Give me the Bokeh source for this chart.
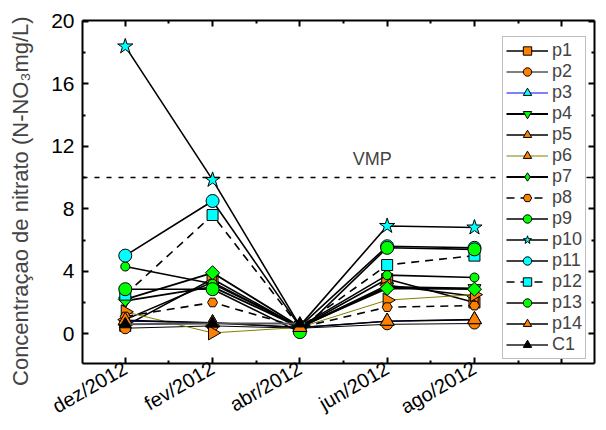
import math
from bokeh.plotting import figure
from bokeh.models import (Range1d, FixedTicker, LinearAxis, Span, Label,
                          Legend, LegendItem, CustomLabelingPolicy)
from bokeh.embed import file_html
from bokeh.resources import INLINE

nan = float("nan")

# ---- data ----
months = ["dez/2012", "fev/2012", "abr/2012", "jun/2012", "ago/2012"]
x_idx = [0, 1, 2, 3, 4]
series_names = ["p1", "p2", "p3", "p4", "p5", "p6", "p7", "p8", "p9", "p10",
                "p11", "p12", "p13", "p14", "C1"]
p1 = [0.5, 3.5, 0.4, 3.5, 2.0]
p2 = [0.35, 0.5, 0.35, 0.6, 0.65]
p3 = [0.8, 0.7, 0.4, 0.8, 0.9]
p4 = [2.1, 3.0, 0.4, 3.0, 2.9]
p5 = [0.9, 3.3, 0.4, 3.1, 2.4]
p6 = [1.4, 0.05, 0.4, 2.15, 2.5]
p7 = [2.2, 3.9, 0.45, 2.9, 2.85]
p8 = [1.1, 2.0, 0.4, 1.7, 1.8]
p9 = [4.3, 3.2, 0.45, 3.75, 3.6]
p10 = [18.4, 9.85, 0.5, 6.9, 6.8]
p11 = [5.0, 8.5, 0.45, 5.6, 5.5]
p12 = [2.5, 7.6, 0.4, 4.4, 5.0]
p13 = [2.85, 2.85, 0.1, 5.5, 5.4]
p14 = [0.85, 0.7, 0.4, 0.8, 0.9]
c1 = [0.6, 0.65, 0.65, nan, nan]
vmp = 10
y_ticks = [0, 4, 8, 12, 16, 20]
y_minor = [2, 6, 10, 14, 18]

values = [p1, p2, p3, p4, p5, p6, p7, p8, p9, p10, p11, p12, p13, p14, c1]

ORANGE = "#FF8000"
CYAN = "#00FFFF"
GREEN = "#00FF00"
# styles: marker, legend marker, fill, size, angle, line color, line width, dash
styles = [
    ("square", "square", ORANGE, 11, 0, "black", 1.6, "solid"),
    ("circle", "circle", ORANGE, 11, 0, "black", 1.0, "solid"),
    ("triangle", "triangle", CYAN, 14, 0, "#0000FF", 1.0, "solid"),
    ("inverted_triangle", "inverted_triangle", GREEN, 13, 0, "black", 1.8, "solid"),
    ("triangle", "triangle", ORANGE, 13, math.pi / 2, "black", 1.6, "solid"),
    ("triangle", "triangle", ORANGE, 14, -math.pi / 2, "#808000", 1.0, "solid"),
    ("square", "diamond", GREEN, 10, math.pi / 4, "black", 1.8, "solid"),
    ("hex", "hex", ORANGE, 10, 0, "black", 1.6, "8 6"),
    ("circle", "circle", GREEN, 9, 0, "black", 1.6, "solid"),
    ("star", "star", CYAN, 16, 0, "black", 1.6, "solid"),
    ("circle", "circle", CYAN, 13, 0, "black", 1.6, "solid"),
    ("square", "square", CYAN, 11, 0, "black", 1.6, "8 6"),
    ("circle", "circle", GREEN, 13, 0, "black", 1.6, "solid"),
    ("triangle", "triangle", ORANGE, 14, 0, "black", 1.6, "solid"),
    ("triangle", "triangle", "black", 12, 0, "#555555", 2.0, "solid"),
]

FONT = "Liberation Sans"

p = figure(frame_width=512, frame_height=343,
           x_range=Range1d(-0.49, 5.375), y_range=Range1d(-1.91, 20.06),
           min_border_left=82, min_border_right=4, min_border_top=20,
           min_border_bottom=10,
           output_backend="svg", toolbar_location=None,
           x_axis_location=None, y_axis_location=None)
p.xgrid.visible = False
p.ygrid.visible = False
p.outline_line_color = None
p.background_fill_color = "white"
p.border_fill_color = "white"

x_major = [0, 1, 2, 3, 4, 5]
x_minor = [0.5, 1.5, 2.5, 3.5, 4.5]
xt = FixedTicker(ticks=x_major, minor_ticks=x_minor)
yt = FixedTicker(ticks=y_ticks, minor_ticks=y_minor)

no_labels = CustomLabelingPolicy(code="""
    for (const i of indices) { indices.unset(i) }
    return indices
""")


def style_axis(ax, labels=True):
    ax.axis_line_width = 2
    ax.axis_line_color = "black"
    ax.major_tick_in = 6
    ax.major_tick_out = 0
    ax.minor_tick_in = 3
    ax.minor_tick_out = 0
    ax.major_tick_line_width = 2
    ax.minor_tick_line_width = 2
    ax.major_tick_line_color = "black"
    ax.minor_tick_line_color = "black"
    ax.major_label_text_font = FONT
    ax.major_label_text_color = "black"
    if not labels:
        ax.major_label_text_font_size = "0px"
        ax.major_label_standoff = 0
        ax.major_label_policy = no_labels


bottom = LinearAxis(ticker=xt)
style_axis(bottom)
bottom.major_label_overrides = {i: m for i, m in enumerate(months)} | {5: ""}
bottom.major_label_orientation = math.pi / 6
bottom.major_label_text_font_size = "20px"
bottom.major_label_standoff = 3
p.add_layout(bottom, "below")

left = LinearAxis(ticker=yt)
style_axis(left)
left.major_label_text_font_size = "21px"
left.major_label_standoff = 8
left.axis_label = "Concentraçao de nitrato (N-NO₃mg/L)   "
left.axis_label_text_font = FONT
left.axis_label_text_font_size = "22px"
left.axis_label_text_font_style = "normal"
left.axis_label_standoff = 15
p.add_layout(left, "left")

top = LinearAxis(ticker=xt)
style_axis(top, labels=False)
p.add_layout(top, "above")
right = LinearAxis(ticker=yt)
style_axis(right, labels=False)
p.add_layout(right, "right")

items = []
for name, vals, st in zip(series_names, values, styles):
    marker, lmarker, fill, size, ang, lc, lw, dash = st
    lr = p.line(x_idx, vals, line_color=lc, line_width=lw, line_dash=dash)
    sr = p.scatter(x_idx, vals, marker=marker, size=size, angle=ang,
                   fill_color=fill, line_color="black", line_width=1)
    if lmarker != marker:
        sr = p.scatter([nan], [nan], marker=lmarker, size=size,
                       fill_color=fill, line_color="black", line_width=1)
    items.append(LegendItem(label=name, renderers=[lr, sr]))

p.add_layout(Span(location=vmp, dimension="width", line_color="black",
                  line_width=1.5, line_dash="5 7"))
p.add_layout(Label(x=2.83, y=11.2, text="VMP", text_font=FONT,
                   text_font_size="18px", text_align="center",
                   text_baseline="middle"))

lg = Legend(items=items, location=(420, 4))
lg.border_line_color = "#808080"
lg.border_line_width = 1.5
lg.background_fill_alpha = 1
lg.label_text_font = FONT
lg.label_text_font_size = "18px"
lg.glyph_width = 42
lg.glyph_height = 21
lg.label_height = 21
lg.spacing = 0
lg.padding = 3
lg.margin = 0
lg.label_standoff = 4
p.add_layout(lg, "center")

open("out.html", "w").write(file_html(p, INLINE))
